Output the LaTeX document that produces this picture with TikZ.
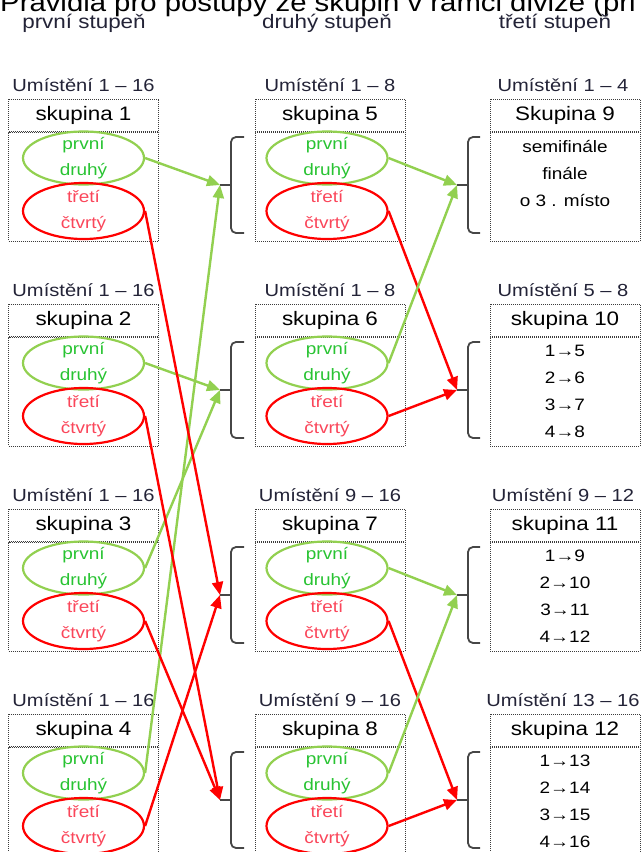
\documentclass[tikz,border=0pt]{standalone}
\usepackage{fontspec}
\setmainfont{Liberation Sans}[FakeStretch=1.15]
\usepackage{tikz}
\usetikzlibrary{shapes.geometric, arrows.meta, positioning}
\definecolor{ovalgreen}{RGB}{146,208,80}
\definecolor{ovalred}{RGB}{255,0,0}
\definecolor{txtgreen}{RGB}{40,195,50}
\definecolor{txtred}{RGB}{250,70,90}
\definecolor{darktext}{RGB}{35,35,55}
\definecolor{dotline}{RGB}{60,60,60}
\definecolor{bracegray}{RGB}{70,70,70}
\tikzstyle{title} = [anchor=base west, inner sep=0pt, font=\fontsize{25.5}{26}\selectfont]
\tikzstyle{stage} = [anchor=base, inner sep=0pt, text=darktext, font=\fontsize{19.5}{20}\selectfont]
\tikzstyle{place} = [anchor=base, inner sep=0pt, text=darktext, font=\fontsize{17.5}{18}\selectfont]
\tikzstyle{grouphead} = [rectangle, draw=dotline, dash pattern=on 1pt off 1pt, line width=1pt, minimum width=150pt, minimum height=32pt, inner sep=0pt, font=\fontsize{19.5}{20}\selectfont]
\tikzstyle{groupbody} = [rectangle, draw=dotline, dash pattern=on 1pt off 1pt, line width=1pt, minimum width=150pt, minimum height=109pt, inner sep=0pt, align=center, font=\fontsize{16.5}{27}\selectfont]
\tikzstyle{ovaltext} = [align=center, inner sep=0pt, font=\fontsize{16.5}{26}\selectfont]
\tikzstyle{greenoval} = [ellipse, draw=ovalgreen, line width=2.2pt, minimum width=121pt, minimum height=53pt, inner sep=0pt, label={[ovaltext, text=txtgreen]center:první\\druhý}]
\tikzstyle{redoval} = [ellipse, draw=ovalred, line width=2.2pt, minimum width=121pt, minimum height=56pt, inner sep=0pt, label={[ovaltext, text=txtred]center:třetí\\čtvrtý}]
\tikzstyle{brace} = [draw=bracegray, line width=1.8pt, rounded corners=5pt]
\tikzstyle{greenarrow} = [draw=ovalgreen, line width=2.4pt, -{Triangle[length=13pt,width=11pt]}]
\tikzstyle{redarrow} = [draw=ovalred, line width=2.4pt, -{Triangle[length=13pt,width=11pt]}]

\begin{document}
\begin{tikzpicture}[x=1pt, y=-1pt]
	\useasboundingbox (0,0) rectangle (642,852);

	\node[title] (heading) at (0,11) {Pravidla pro postupy ze skupin v rámci divize (při};
	\node[stage] (stage_one) at (84,28) {první stupeň};
	\node[stage] (stage_two) at (327,28) {druhý stupeň};
	\node[stage] (stage_three) at (555,28) {třetí stupeň};

	% first stage
	\node[place] (place1) at (83.5,91) {Umístění 1 – 16};
	\node[grouphead] (skup1) at (83.5,115) {skupina 1};
	\node[groupbody, below=0pt of skup1] (body1) {};
	\node[greenoval] (green1) at (83.5,158) {};
	\node[redoval] (red1) at (83.5,211) {};

	\node[place] (place2) at (83.5,296) {Umístění 1 – 16};
	\node[grouphead] (skup2) at (83.5,320) {skupina 2};
	\node[groupbody, below=0pt of skup2] (body2) {};
	\node[greenoval] (green2) at (83.5,363) {};
	\node[redoval] (red2) at (83.5,416) {};

	\node[place] (place3) at (83.5,501) {Umístění 1 – 16};
	\node[grouphead] (skup3) at (83.5,525) {skupina 3};
	\node[groupbody, below=0pt of skup3] (body3) {};
	\node[greenoval] (green3) at (83.5,568) {};
	\node[redoval] (red3) at (83.5,621) {};

	\node[place] (place4) at (83.5,706) {Umístění 1 – 16};
	\node[grouphead] (skup4) at (83.5,730) {skupina 4};
	\node[groupbody, below=0pt of skup4] (body4) {};
	\node[greenoval] (green4) at (83.5,773) {};
	\node[redoval] (red4) at (83.5,826) {};

	% second stage
	\node[place] (place5) at (330,91) {Umístění 1 – 8};
	\node[grouphead] (skup5) at (330,115) {skupina 5};
	\node[groupbody, below=0pt of skup5] (body5) {};
	\node[greenoval] (green5) at (327,158) {};
	\node[redoval] (red5) at (327,211) {};

	\node[place] (place6) at (330,296) {Umístění 1 – 8};
	\node[grouphead] (skup6) at (330,320) {skupina 6};
	\node[groupbody, below=0pt of skup6] (body6) {};
	\node[greenoval] (green6) at (327,363) {};
	\node[redoval] (red6) at (327,416) {};

	\node[place] (place7) at (330,501) {Umístění 9 – 16};
	\node[grouphead] (skup7) at (330,525) {skupina 7};
	\node[groupbody, below=0pt of skup7] (body7) {};
	\node[greenoval] (green7) at (327,568) {};
	\node[redoval] (red7) at (327,621) {};

	\node[place] (place8) at (330,706) {Umístění 9 – 16};
	\node[grouphead] (skup8) at (330,730) {skupina 8};
	\node[groupbody, below=0pt of skup8] (body8) {};
	\node[greenoval] (green8) at (327,773) {};
	\node[redoval] (red8) at (327,826) {};

	% third stage
	\node[place] (place9) at (563,91) {Umístění 1 – 4};
	\node[grouphead] (skup9) at (565,115) {Skupina 9};
	\node[groupbody, below=0pt of skup9] (body9) {semifinále\\finále\\o 3 . místo\\\phantom{1}};

	\node[place] (place10) at (563,296) {Umístění 5 – 8};
	\node[grouphead] (skup10) at (565,320) {skupina 10};
	\node[groupbody, below=0pt of skup10] (body10) {1→5\\2→6\\3→7\\4→8};

	\node[place] (place11) at (563,501) {Umístění 9 – 12};
	\node[grouphead] (skup11) at (565,525) {skupina 11};
	\node[groupbody, below=0pt of skup11] (body11) {1→9\\2→10\\3→11\\4→12};

	\node[place] (place12) at (563,706) {Umístění 13 – 16};
	\node[grouphead] (skup12) at (565,730) {skupina 12};
	\node[groupbody, below=0pt of skup12] (body12) {1→13\\2→14\\3→15\\4→16};

	% braces
	\coordinate (brace_a1) at (220,185);
	\coordinate (brace_a2) at (220,390);
	\coordinate (brace_a3) at (220,595);
	\coordinate (brace_a4) at (220,800);
	\coordinate (brace_b1) at (457,185);
	\coordinate (brace_b2) at (457,390);
	\coordinate (brace_b3) at (457,595);
	\coordinate (brace_b4) at (457,800);
	\draw[brace] ([shift={(24,-48)}]brace_a1) -- ++(-13,0) -- ++(0,96) -- ++(13,0) ++(-13,-48) -- (brace_a1);
	\draw[brace] ([shift={(24,-48)}]brace_a2) -- ++(-13,0) -- ++(0,96) -- ++(13,0) ++(-13,-48) -- (brace_a2);
	\draw[brace] ([shift={(24,-48)}]brace_a3) -- ++(-13,0) -- ++(0,96) -- ++(13,0) ++(-13,-48) -- (brace_a3);
	\draw[brace] ([shift={(24,-48)}]brace_a4) -- ++(-13,0) -- ++(0,96) -- ++(13,0) ++(-13,-48) -- (brace_a4);
	\draw[brace] ([shift={(23,-48)}]brace_b1) -- ++(-12,0) -- ++(0,96) -- ++(12,0) ++(-12,-48) -- (brace_b1);
	\draw[brace] ([shift={(23,-48)}]brace_b2) -- ++(-12,0) -- ++(0,96) -- ++(12,0) ++(-12,-48) -- (brace_b2);
	\draw[brace] ([shift={(23,-48)}]brace_b3) -- ++(-12,0) -- ++(0,96) -- ++(12,0) ++(-12,-48) -- (brace_b3);
	\draw[brace] ([shift={(23,-48)}]brace_b4) -- ++(-12,0) -- ++(0,96) -- ++(12,0) ++(-12,-48) -- (brace_b4);

	% first stage -> second stage
	\draw[greenarrow] (green1.east) -- (brace_a1);
	\draw[greenarrow] (green2.east) -- (brace_a2);
	\draw[greenarrow] (green3.east) -- (brace_a2);
	\draw[greenarrow] (green4.east) -- (brace_a1);
	\draw[redarrow] (red1.east) -- (brace_a3);
	\draw[redarrow] (red2.east) -- (brace_a4);
	\draw[redarrow] (red3.east) -- (brace_a4);
	\draw[redarrow] (red4.east) -- (brace_a3);

	% second stage -> third stage
	\draw[greenarrow] (green5.east) -- (brace_b1);
	\draw[redarrow] (red5.east) -- (brace_b2);
	\draw[greenarrow] (green6.east) -- (brace_b1);
	\draw[redarrow] (red6.east) -- (brace_b2);
	\draw[greenarrow] (green7.east) -- (brace_b3);
	\draw[redarrow] (red7.east) -- (brace_b4);
	\draw[greenarrow] (green8.east) -- (brace_b3);
	\draw[redarrow] (red8.east) -- (brace_b4);
\end{tikzpicture}
\end{document}
